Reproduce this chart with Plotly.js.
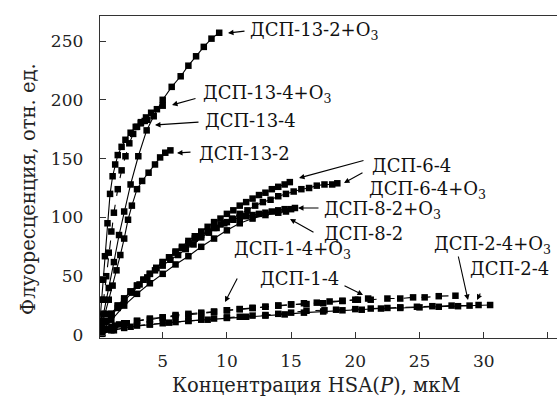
<!DOCTYPE html>
<html><head><meta charset="utf-8">
<script src="https://cdn.plot.ly/plotly-3.0.1.min.js"></script>
<style>html,body{margin:0;padding:0;background:#fff}#chart{width:557px;height:406px}</style>
</head><body><div id="chart"></div>
<script>
// ---- data ----
const s13_2_O3_x = [0.15,0.4,0.8,1.2,1.6,2.0,2.5,3.1,3.75,4.3,5.0,5.7,6.4,7.0,7.6,8.2,8.8,9.4];
const s13_2_O3_y = [5,18,40,62,85,105,128,152,174,186,200,211,220,229,237,245,252,257];
const s13_4_O3_x = [0.1,0.25,0.35,0.5,0.7,0.9,1.1,1.3,1.5,1.8,2.1,2.5,2.9,3.3,3.7,4.1,4.55,5.0];
const s13_4_O3_y = [10,30,47,67,95,120,135,145,153,160,166,172,177,181,185,189,192,195];
const s13_4_x = [0.2,0.4,0.6,0.8,1.0,1.2,1.5,1.8,2.1,2.4,2.7,3.0,3.3,3.6,3.8];
const s13_4_y = [12,30,50,70,88,104,124,140,152,163,171,177,180,182,183];
const s13_2_x = [0.1,0.3,0.5,0.8,1.1,1.4,1.7,2.0,2.3,2.6,3.0,3.4,3.9,4.4,4.8,5.2,5.6];
const s13_2_y = [3,10,18,30,42,55,68,82,98,110,124,131,138,145,151,155,157];

const s6_4_x = [0.2,0.6,1,1.5,2,2.5,3,3.5,4,4.5,5,5.5,6,6.5,7,7.5,8,8.5,9,9.5,10,10.5,11,11.5,12,12.5,13,13.5,14,14.5,14.9];
const s6_4_y = [5,12,18,25,31,37,42,47,52,57,62,66,71,75,80,84,88,92,96,99,103,106,110,113,116,119,121,124,126,128,130];
const s6_4_O3_x = [0.2,0.6,1,1.5,2,2.6,3.2,3.8,4.4,5,5.6,6.2,6.8,7.4,8,8.6,9.2,9.8,10.4,11,11.6,12.2,12.8,13.4,14,14.6,15.2,15.8,16.4,17,17.6,18.2,18.6];
const s6_4_O3_y = [5,12,17,23,29,36,43,49,55,59,64,68,73,77,83,87,91,95,99,103,106,110,113,115,118,120,122,124,125,127,128,128,129];
const s8_2_O3_x = [0.2,0.5,1,1.5,2,2.5,3,3.5,4,4.5,5,5.5,6,6.5,7,7.5,8,8.5,9,9.5,10,10.5,11,11.5,12,12.5,13,13.5,14,14.5,15,15.3];
const s8_2_O3_y = [5,11,18,25,31,37,42,47,52,57,62,66,70,74,78,82,85,88,91,94,96,98,100,101,102,103,104,105,106,107,107,108];
const s8_2_x = [0.3,1,2,3,4,5,6,7,8,9,10,11,12,13,14,14.6];
const s8_2_y = [4,13,25,35,44,52,60,67,75,82,89,95,99,102,104,105];

const s1_4_O3_x = [0.2,0.6,1,1.6,2.2,3,4,5,6,7,8,9,10,11,12,13,14,15,16.2,17.5,19,20.2,21.2,22.5,23.5,24.5,25.4,26.5,27.8];
const s1_4_O3_y = [2,5,7,9,10,12,13,15,16,17,18,19.5,21,22,23,24,25,26,26.3,27,29,30,30,31,31,32,32,33,33.4];
const s1_4_x = [0.2,0.7,1.3,2,3,4,5,6,7,8,9,10,11,12,13,14,15,16,17,18,19,20,21];
const s1_4_y = [2,5,8,10,12,14,15,17,18,19,20,21,22,23,24,25,26,27,27.5,28.5,29,30,31];
const s2_4_O3_x = [0.2,1,2,3,4,5,6,7,8,9,10,11,12,13,14,15,16.2,17.6,18.5,20,21.2,22.5,23.5,24.8,26,27.5,28.9];
const s2_4_O3_y = [1,4,6,8,9,10,11,12,13,14,15,15.5,16.5,17,18,19,20.6,21,21.5,22,22.5,23,23.5,24,24.5,25,25];
const s2_4_x = [0.3,1.2,2.5,4,5.5,7,8.5,10,11.5,13,14.5,16,17.5,19,20.5,22,23.5,25,26.5,28,29.6,30.5];
const s2_4_y = [1,4,7,9,10.5,12,13,14.5,15.5,16.5,17.5,19,20,21,21.5,22.5,23,23.5,24,24.5,25.5,25.5];

const seriesList = [
  [s13_2_O3_x, s13_2_O3_y, 'solid'],
  [s13_4_O3_x, s13_4_O3_y, 'solid'],
  [s13_4_x, s13_4_y, 'dash'],
  [s13_2_x, s13_2_y, 'solid'],
  [s6_4_x, s6_4_y, 'solid'],
  [s6_4_O3_x, s6_4_O3_y, 'solid'],
  [s8_2_O3_x, s8_2_O3_y, 'solid'],
  [s8_2_x, s8_2_y, 'solid'],
  [s1_4_O3_x, s1_4_O3_y, 'dash'],
  [s1_4_x, s1_4_y, 'dash'],
  [s2_4_O3_x, s2_4_O3_y, 'dash'],
  [s2_4_x, s2_4_y, 'solid']
];

const labelTexts = ['ДСП-13-2+O<sub>3</sub>','ДСП-13-4+O<sub>3</sub>','ДСП-13-4','ДСП-13-2',
  'ДСП-6-4','ДСП-6-4+O<sub>3</sub>','ДСП-8-2+O<sub>3</sub>','ДСП-8-2',
  'ДСП-1-4+O<sub>3</sub>','ДСП-1-4','ДСП-2-4+O<sub>3</sub>','ДСП-2-4'];

// ---- layout helpers (pixel positions -> data coords) ----
const px2x = p => (p - 98.5) / 12.84;
const py2y = p => (335 - p) / 1.176;
const FONT = '"DejaVu Serif", serif';

const traces = seriesList.map(s => ({
  x: s[0], y: s[1], type: 'scatter', mode: 'lines+markers',
  line: {color: '#000', width: 1.1, dash: s[2]},
  marker: {symbol: 'square', size: 6.5, color: '#000'},
  showlegend: false, cliponaxis: true
}));

// label positions: [left px, center py]
const labelPos = [[248,31],[201,94],[203,120],[197,153],[370,165],[367,190],[322,210],[322,233],[232,250],[258,278],[432,245],[468,268]];
// arrows: [tail px, tail py, tip px, tip py]
const arrows = [[246,31,228,33],[197,98,172,105],[200,122,155,125],[192,152,177,153],
  [365,160,299,178],[364,172,344,183],[320,208,298,208],[315,233,290,219],
  [238,277,225,302],[343,285,363,295],[458,255,468,300],[481,292,477,300]];

const annotations = [];
labelTexts.forEach((t,i)=>{
  annotations.push({x: px2x(labelPos[i][0]), y: py2y(labelPos[i][1]), xref:'x', yref:'y',
    text: t, showarrow:false, xanchor:'left', yanchor:'middle',
    font:{family:FONT, size:18, color:'#111'}});
});
arrows.forEach(a=>{
  annotations.push({x: px2x(a[2]), y: py2y(a[3]), xref:'x', yref:'y', text:'',
    showarrow:true, ax: a[0]-a[2], ay: a[1]-a[3], arrowhead:2, arrowsize:1, arrowwidth:1.1, arrowcolor:'#000'});
});
annotations.push({xref:'paper', yref:'paper', x:0.4726, y:-0.146, text:'Концентрация HSA(<i>P</i>), мкМ',
  showarrow:false, xanchor:'center', yanchor:'middle', font:{family:FONT, size:19.5, color:'#222'}});
annotations.push({xref:'paper', yref:'paper', x:-0.1575, y:0.4627, text:'Флуоресценция, отн. ед.',
  showarrow:false, textangle:-90, xanchor:'center', yanchor:'middle', font:{family:FONT, size:19.5, color:'#222'}});

const layout = {
  width: 557, height: 406,
  margin: {l:100, r:0, t:16, b:68},
  paper_bgcolor:'#fff', plot_bgcolor:'#fff',
  font: {family: FONT, size: 17, color:'#222'},
  xaxis: {range:[px2x(100), px2x(557)], tickvals:[5,10,15,20,25,30,35], ticks:'inside', ticklen:6,
    tickcolor:'#333', showline:true, linecolor:'#333', linewidth:1.3, mirror:true, showgrid:false, zeroline:false,
    tickfont:{family:FONT, size:17, color:'#222'}, ticklabelstandoff:7},
  yaxis: {range:[py2y(338), py2y(16)], tickvals:[0,50,100,150,200,250], ticks:'inside', ticklen:6,
    tickcolor:'#333', showline:true, linecolor:'#333', linewidth:1.3, showgrid:false, zeroline:false,
    tickfont:{family:FONT, size:17, color:'#222'}, ticklabelstandoff:12},
  annotations: annotations
};
Plotly.newPlot('chart', traces, layout, {staticPlot:true, displayModeBar:false});
</script></body></html>
